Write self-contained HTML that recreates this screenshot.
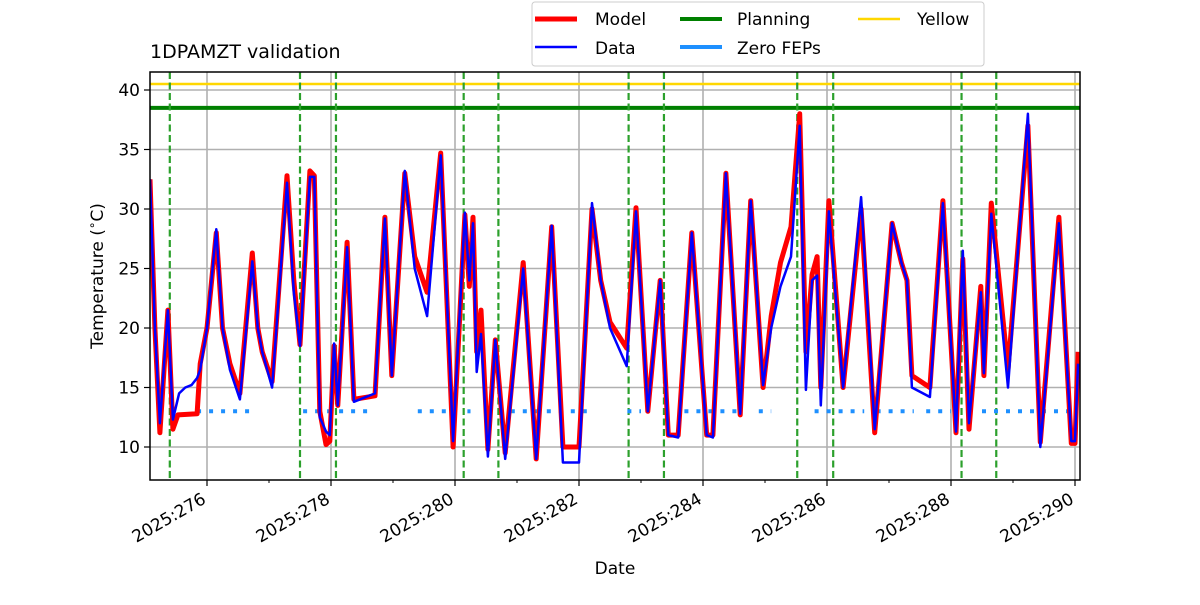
<!DOCTYPE html>
<html><head><meta charset="utf-8">
<style>
body{margin:0;background:#fff;}
svg text{font-family:"DejaVu Sans","Liberation Sans",sans-serif;fill:#000;}
</style></head>
<body>
<svg id="chart" width="1200" height="600" xmlns="http://www.w3.org/2000/svg">
<rect width="1200" height="600" fill="#fff"/>
<defs><clipPath id="pc"><rect x="150" y="72" width="930" height="408"/></clipPath></defs>
<g id="grid"></g>
<g id="plot" clip-path="url(#pc)"></g>
<rect x="150" y="72" width="930" height="408" fill="none" stroke="#000" stroke-width="1.5"/>
<g id="axes"></g>
<text x="150" y="58" font-size="19">1DPAMZT validation</text>
<text x="615" y="574" font-size="17" text-anchor="middle">Date</text>
<text transform="translate(103,276) rotate(-90)" font-size="17" text-anchor="middle">Temperature (<tspan font-size="12" dy="-7">∘</tspan><tspan dy="7">C)</tspan></text>
<g>
<rect x="532" y="2" width="452" height="64" rx="3" fill="#fff" stroke="#ccc" stroke-width="1"/>
<line x1="535" y1="19" x2="577" y2="19" stroke="red" stroke-width="5"/>
<text x="595" y="25" font-size="17">Model</text>
<line x1="535" y1="47" x2="577" y2="47" stroke="blue" stroke-width="2.5"/>
<text x="595" y="54" font-size="17">Data</text>
<line x1="680" y1="19" x2="722" y2="19" stroke="green" stroke-width="4"/>
<text x="737" y="25" font-size="17">Planning</text>
<line x1="680" y1="47" x2="722" y2="47" stroke="dodgerblue" stroke-width="4"/>
<text x="737" y="54" font-size="17">Zero FEPs</text>
<line x1="858" y1="19" x2="900" y2="19" stroke="gold" stroke-width="2.5"/>
<text x="917" y="25" font-size="17">Yellow</text>
</g>
</svg>
<script>
const yTicks=[10,15,20,25,30,35,40];
const xMajorDays=[276,278,280,282,284,286,288,290];
const xMajorLabels=["2025:276","2025:278","2025:280","2025:282","2025:284","2025:286","2025:288","2025:290"];
const xMinorDays=[277,279,281,283,285,287,289];
const planningLimit=38.5;
const yellowLimit=40.5;
const zeroFepLevel=13.0;
const fepEventDays=[275.4,277.5,278.08,280.14,280.7,282.8,283.37,285.52,286.1,288.17,288.73];
const zeroFepSpans=[[275.84,276.8],[277.55,278.7],[279.4,279.9],[280.2,280.25],[280.9,282.2],[282.78,283.0],[283.7,284.6],[284.9,285.1],[285.8,286.6],[286.8,287.4],[287.6,288.0],[288.5,290.0]];
const modelDays=[275.08,275.16,275.24,275.37,275.45,275.53,275.84,275.89,276.0,276.15,276.25,276.37,276.53,276.73,276.82,276.89,277.05,277.29,277.4,277.5,277.66,277.73,277.82,277.92,277.98,278.05,278.11,278.26,278.37,278.71,278.87,278.98,279.19,279.35,279.55,279.77,279.97,280.16,280.23,280.29,280.35,280.42,280.53,280.65,280.81,281.1,281.31,281.56,281.74,282.0,282.21,282.35,282.5,282.77,282.92,283.11,283.31,283.44,283.6,283.82,284.06,284.16,284.37,284.6,284.77,284.97,285.1,285.25,285.42,285.56,285.66,285.76,285.84,285.9,286.03,286.26,286.55,286.77,287.05,287.2,287.29,287.37,287.66,287.87,288.08,288.19,288.29,288.48,288.53,288.65,288.92,289.24,289.44,289.74,289.94,290.0,290.05];
const modelTemps=[32.5,20,11.2,21.5,11.5,12.7,12.8,17,20,28,20,17,14.5,26.3,20,18,15.5,32.8,24,18.6,33.2,32.8,13,10.2,10.5,18.5,13.5,27.2,14,14.3,29.3,16,33,26,23,34.7,10,29.5,23.5,29.3,18,21.5,9.8,19,9.5,25.5,9,28.5,10,10,30,24,20.5,18.3,30.1,13,24,11,11,28,11,11,33,12.7,30.7,15,21,25.5,28.5,38,18,24.5,26,15,30.7,15,30,11.2,28.8,25.5,24,16,15,30.7,11.2,25.8,11.5,23.5,16,30.5,16.5,37,10.4,29.3,10.3,10.3,18];
const dataDays=[275.08,275.16,275.24,275.37,275.45,275.55,275.65,275.75,275.84,275.89,276.0,276.15,276.25,276.37,276.53,276.73,276.82,276.89,277.05,277.29,277.4,277.5,277.66,277.73,277.82,277.92,277.98,278.05,278.11,278.26,278.37,278.71,278.87,278.98,279.19,279.35,279.55,279.77,279.97,280.16,280.23,280.29,280.35,280.42,280.53,280.65,280.81,281.1,281.31,281.56,281.74,282.0,282.21,282.35,282.5,282.77,282.92,283.11,283.31,283.44,283.6,283.82,284.06,284.16,284.37,284.6,284.77,284.97,285.1,285.25,285.42,285.56,285.66,285.76,285.84,285.9,286.03,286.26,286.55,286.77,287.05,287.2,287.29,287.37,287.66,287.87,288.08,288.19,288.29,288.48,288.53,288.65,288.92,289.24,289.44,289.74,289.94,290.0,290.05];
const dataTemps=[32.5,20,12,21.5,12.3,14.5,15,15.2,15.8,16.5,20,28.3,20,16.5,14,25.6,20,18,15,32.2,23,18.5,32.7,32.7,12.5,11.3,11,18.7,13.5,26.8,13.8,14.5,29.2,16,33.2,25,21,34.5,10.5,29.7,24,28.8,16.3,19.5,9.2,19,9,25,9,28.6,8.7,8.7,30.5,24,20,16.8,29.8,13,24,11,10.8,28,11,10.8,33,12.8,30.7,15.2,20,23.5,26,37,14.8,24,24.4,13.5,29.8,15,31,11.5,28.8,25.5,24,15,14.2,30.5,11.3,26.5,12,23,16.2,29.6,15,38,10,28.8,10.5,10.5,17];

const NS="http://www.w3.org/2000/svg";
const X0=150,X1=1080,Y0=72,Y1=480;
function xs(d){return 207+(d-276)*62;}
function ys(t){return 90+(40-t)*(357/30);}
function mk(tag,attrs,parent){const e=document.createElementNS(NS,tag);for(const k in attrs)e.setAttribute(k,attrs[k]);parent.appendChild(e);return e;}
const grid=document.getElementById('grid'),plot=document.getElementById('plot'),axes=document.getElementById('axes');

yTicks.forEach(v=>{
  const g=mk('line',{x1:X0,x2:X1,y1:ys(v),y2:ys(v),stroke:'#b0b0b0','stroke-width':1.6},grid);
  
  
  mk('line',{x1:X0-6,x2:X0,y1:ys(v),y2:ys(v),stroke:'#000','stroke-width':1.2},axes);
  const t=mk('text',{x:X0-10,y:ys(v)+6,'font-size':17,'text-anchor':'end'},axes);
  t.textContent=v;
  
  
});
xMajorDays.forEach((d,i)=>{
  const g=mk('line',{x1:xs(d),x2:xs(d),y1:Y0,y2:Y1,stroke:'#b0b0b0','stroke-width':1.6},grid);
  
  
  mk('line',{x1:xs(d),x2:xs(d),y1:Y1,y2:Y1+6,stroke:'#000','stroke-width':1.2},axes);
  const tx=xs(d)-6,ty=Y1+12;
  const t=mk('text',{x:tx,y:ty,'font-size':17,'text-anchor':'end',transform:`rotate(-30 ${tx} ${ty})`},axes);
  t.setAttribute('dy','0.7em');
  t.textContent=xMajorLabels[i];
  
  
});
xMinorDays.forEach(d=>{mk('line',{x1:xs(d),x2:xs(d),y1:Y1,y2:Y1+3,stroke:'#000','stroke-width':1},axes);});

let l=mk('line',{x1:X0,x2:X1,y1:ys(yellowLimit),y2:ys(yellowLimit),stroke:'gold','stroke-width':2.5},plot);


l=mk('line',{x1:X0,x2:X1,y1:ys(planningLimit),y2:ys(planningLimit),stroke:'green','stroke-width':4},plot);



fepEventDays.forEach(d=>{
  const e=mk('line',{x1:xs(d),x2:xs(d),y1:Y0,y2:Y1,stroke:'#2ca02c','stroke-width':2.2,'stroke-dasharray':'7,3.5'},plot);
  
  
});
zeroFepSpans.forEach(s=>{
  const e=mk('line',{x1:xs(s[0]),x2:xs(s[1]),y1:ys(zeroFepLevel),y2:ys(zeroFepLevel),stroke:'dodgerblue','stroke-width':4,'stroke-dasharray':'4,8'},plot);
  
  
});
function pathOf(ds,ts){return ds.map((d,i)=>(i?'L':'M')+xs(d).toFixed(1)+','+ys(ts[i]).toFixed(1)).join('');}
let p=mk('path',{d:pathOf(modelDays,modelTemps),fill:'none',stroke:'red','stroke-width':5,'stroke-linejoin':'round'},plot);


p=mk('path',{d:pathOf(dataDays,dataTemps),fill:'none',stroke:'blue','stroke-width':2.5,'stroke-linejoin':'round'},plot);


</script>
</body></html>
